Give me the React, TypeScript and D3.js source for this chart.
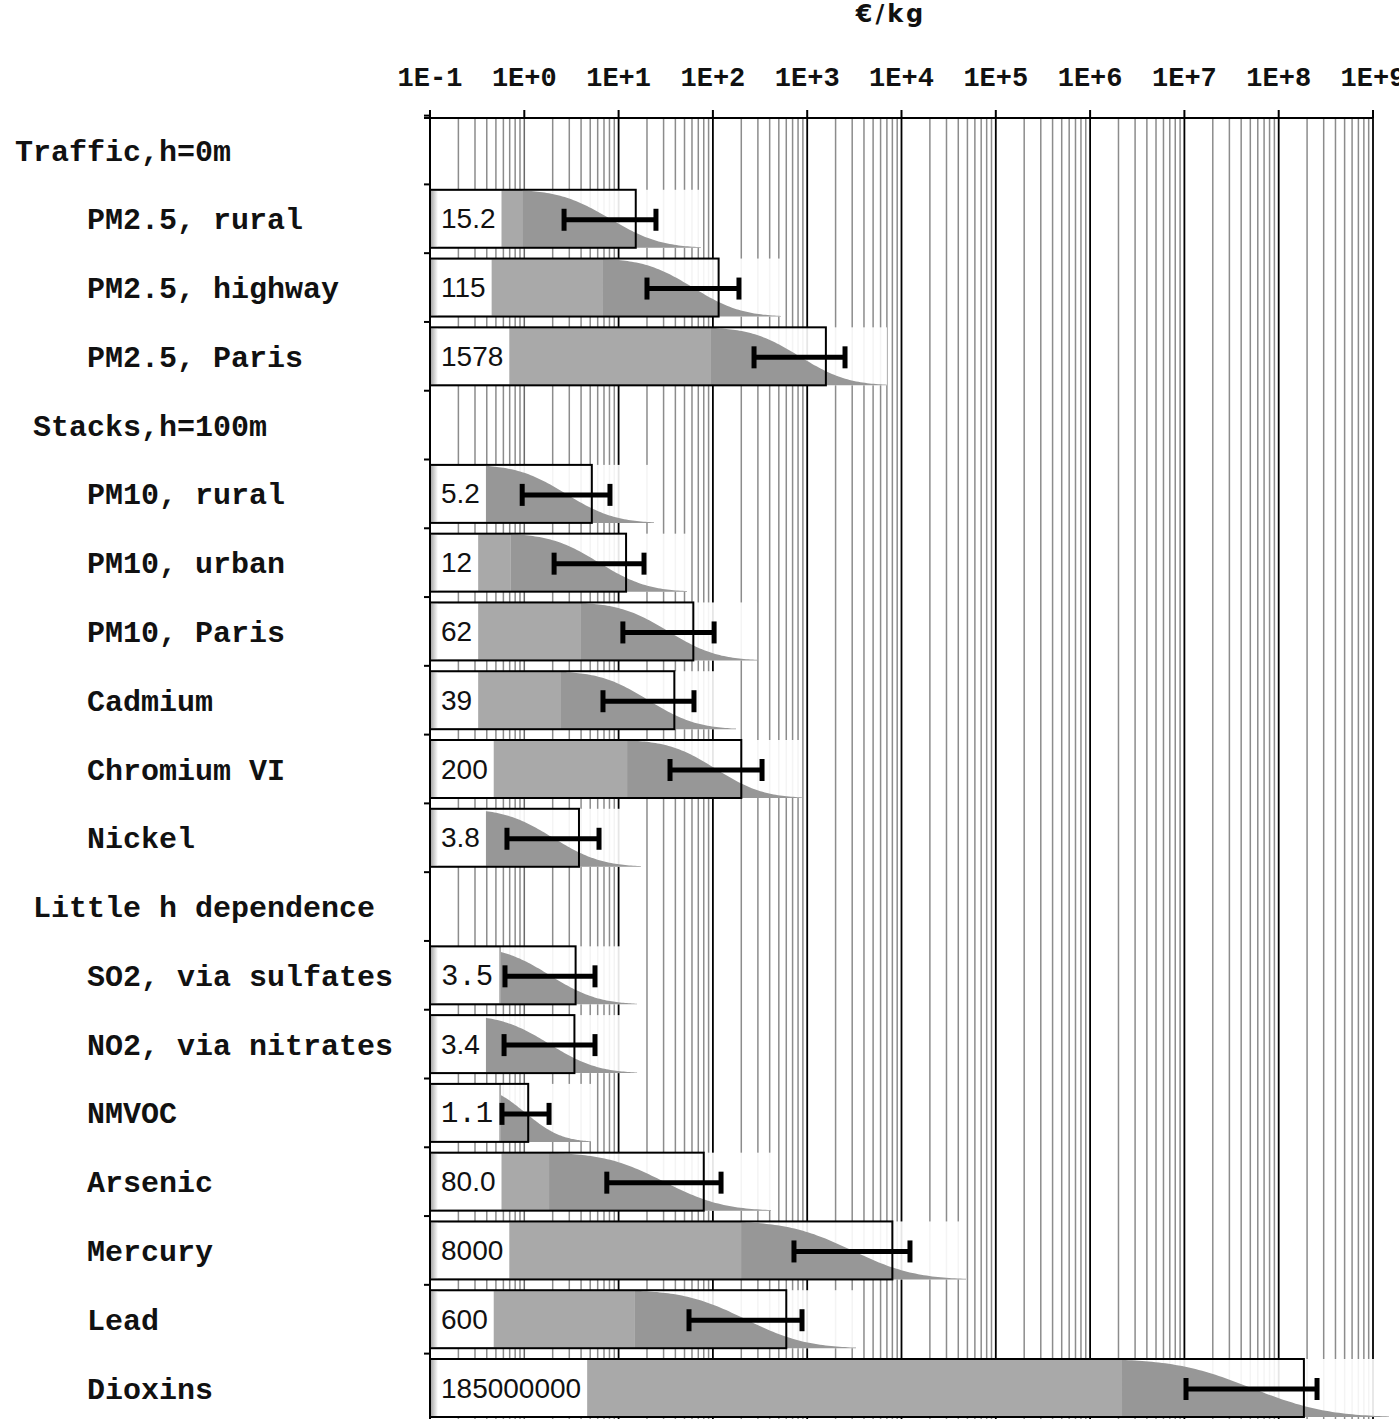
import React, { useEffect, useRef } from 'react';
import * as d3 from 'd3';

// rows top to bottom, leading spaces give the indent (monospace font)
const rowLabels = [
  'Traffic,h=0m',
  '    PM2.5, rural',
  '    PM2.5, highway',
  '    PM2.5, Paris',
  ' Stacks,h=100m',
  '    PM10, rural',
  '    PM10, urban',
  '    PM10, Paris',
  '    Cadmium',
  '    Chromium VI',
  '    Nickel',
  ' Little h dependence',
  '    SO2, via sulfates',
  '    NO2, via nitrates',
  '    NMVOC',
  '    Arsenic',
  '    Mercury',
  '    Lead',
  '    Dioxins',
];

// damage cost in €/kg as printed in the bar (null = group heading)
const valueLabels = [
  null, '15.2', '115', '1578',
  null, '5.2', '12', '62', '39', '200', '3.8',
  null, '3.5', '3.4', '1.1', '80.0', '8000', '600', '185000000',
];

// where the darker grey part of each bar starts
const darkFrom = [
  null, 0.95, 6.83, 95.4,
  null, 0.374, 0.72, 3.99, 2.45, 12.3, 0.36,
  null, 0.566, 0.374, 0.566, 1.83, 199, 14.9, 2.18e6,
];

// uncertainty bars (low / high end)
const errLow = [
  null, 2.64, 20.0, 273,
  null, 0.95, 2.07, 11.1, 6.83, 35.1, 0.655,
  null, 0.624, 0.61, 0.58, 7.5, 724, 55.8, 1.04e7,
];
const errHigh = [
  null, 24.9, 189, 2518,
  null, 8.1, 18.6, 103, 63.0, 332, 6.2,
  null, 5.62, 5.62, 1.83, 122, 12300, 881, 2.55e8,
];

// where the distribution tail fades out
const fadeTo = [
  null, 74.8, 527, 7015,
  null, 23.7, 53.1, 294, 176, 881, 17.3,
  null, 15.7, 15.7, 5.1, 413, 48300, 3290, 1.48e9,
];

// these two values are printed in courier in the original
const courierValues = ['3.5', '1.1'];

const W = 1399;
const H = 1419;

// standard normal cdf
const phi = (z) => {
  const t = 1 / (1 + (0.3275911 * Math.abs(z)) / Math.SQRT2);
  const e =
    1 -
    (((((1.061405429 * t - 1.453152027) * t + 1.421413741) * t - 0.284496736) * t + 0.254829592) * t) *
      Math.exp((-z * z) / 2);
  return z >= 0 ? 0.5 * (1 + e) : 0.5 * (1 - e);
};

const App = () => {
  const svgRef = useRef(null);

  useEffect(() => {
    const svg = d3.select(svgRef.current);
    svg.selectAll('*').remove();

    const x = d3.scaleLog().domain([1e-1, 1e9]).range([430, 1373]);
    const y = d3
      .scalePoint()
      .domain(d3.range(rowLabels.length))
      .range([150, 1388]);
    const step = y.step();
    const barH = 58;
    const axisY = 118;
    const x0 = x(0.1);

    svg.append('rect').attr('width', W).attr('height', H).attr('fill', '#fff');

    const defs = svg.append('defs');
    const grad = defs.append('linearGradient').attr('id', 'edge').attr('x1', 0).attr('x2', 1);
    grad.append('stop').attr('offset', 0).attr('stop-color', '#aaa');
    grad.append('stop').attr('offset', 1).attr('stop-color', '#fff');

    // log grid
    const gridVals = [];
    for (let n = -1; n <= 8; n++) for (let k = 1; k <= 9; k++) gridVals.push(k * Math.pow(10, n));
    gridVals.push(1e9);
    const isMajor = (v) => Math.abs(Math.log10(v) - Math.round(Math.log10(v))) < 1e-9;

    const grid = svg.append('g');
    grid
      .selectAll('line.minor')
      .data(gridVals.filter((v) => !isMajor(v) || v === 1))
      .enter()
      .append('line')
      .attr('x1', (d) => x(d))
      .attr('x2', (d) => x(d))
      .attr('y1', axisY)
      .attr('y2', H)
      .attr('stroke', (d) => (d === 1 ? '#6a6a6a' : '#8c8c8c'))
      .attr('stroke-width', 1.5);
    grid
      .selectAll('line.major')
      .data(gridVals.filter((v) => isMajor(v) && v > 1))
      .enter()
      .append('line')
      .attr('x1', (d) => x(d))
      .attr('x2', (d) => x(d))
      .attr('y1', axisY)
      .attr('y2', H)
      .attr('stroke', '#000')
      .attr('stroke-width', 1.8);

    // bars
    rowLabels.forEach((_, i) => {
      const label = valueLabels[i];
      if (label === null) return;
      const v = +label;
      const cy = y(i);
      const top = cy - barH / 2;
      const bottom = top + barH;
      const g = svg.append('g');

      g.append('rect')
        .attr('x', x0)
        .attr('y', top)
        .attr('width', x(fadeTo[i]) - x0)
        .attr('height', barH)
        .attr('fill', '#fff')
        .attr('opacity', 0.9);

      g.append('rect')
        .attr('x', x0 + 1)
        .attr('y', top)
        .attr('width', Math.max(0, x(darkFrom[i]) - x0 - 1))
        .attr('height', barH)
        .attr('fill', '#a9a9a9');

      // distribution tail: top edge follows a lognormal survival shape
      const c = (Math.log10(errLow[i]) + Math.log10(errHigh[i])) / 2;
      const lf = Math.log10(fadeTo[i]);
      const s = (lf - c) / 2.3;
      const ld = Math.log10(darkFrom[i]);
      const pts = d3.range(0, 81).map((k) => ld + ((lf - ld) * k) / 80);
      const area = d3
        .area()
        .x((l) => x(Math.pow(10, l)))
        .y0(bottom)
        .y1((l) => top + barH * phi((l - c) / s));
      g.append('path').attr('d', area(pts)).attr('fill', '#979797');

      // value box
      const mono = courierValues.includes(label);
      const txt = g
        .append('text')
        .attr('x', 441)
        .attr('y', cy + 9.5)
        .attr('font-family', mono ? "'Liberation Mono', monospace" : "'Liberation Sans', Arial, sans-serif")
        .attr('font-size', mono ? 29 : 28)
        .attr('fill', '#111')
        .text(label);
      const tw = txt.node().getComputedTextLength();
      g.insert('rect', 'text')
        .attr('x', x0 + 1)
        .attr('y', top + 1)
        .attr('width', 441 + tw + 6 - x0 - 1)
        .attr('height', barH - 2)
        .attr('fill', '#fff');
      g.insert('rect', 'text')
        .attr('x', x0 + 1)
        .attr('y', top + 1)
        .attr('width', 7)
        .attr('height', barH - 2)
        .attr('fill', 'url(#edge)');

      g.append('rect')
        .attr('x', x0)
        .attr('y', top)
        .attr('width', x(v) - x0)
        .attr('height', barH)
        .attr('fill', 'none')
        .attr('stroke', '#000')
        .attr('stroke-width', 2);

      const ey = cy + 1;
      g.append('line')
        .attr('x1', x(errLow[i]))
        .attr('x2', x(errHigh[i]))
        .attr('y1', ey)
        .attr('y2', ey)
        .attr('stroke', '#000')
        .attr('stroke-width', 5);
      [errLow[i], errHigh[i]].forEach((e) => {
        g.append('line')
          .attr('x1', x(e))
          .attr('x2', x(e))
          .attr('y1', ey - 11)
          .attr('y2', ey + 11)
          .attr('stroke', '#000')
          .attr('stroke-width', 5);
      });
    });

    // left axis with ticks between rows
    svg
      .append('line')
      .attr('x1', x0)
      .attr('x2', x0)
      .attr('y1', axisY)
      .attr('y2', H)
      .attr('stroke', '#000')
      .attr('stroke-width', 2);
    svg
      .selectAll('line.ytick')
      .data(rowLabels.map((_, i) => y(i) - step / 2))
      .enter()
      .append('line')
      .attr('x1', x0 - 6)
      .attr('x2', x0)
      .attr('y1', (d) => d)
      .attr('y2', (d) => d)
      .attr('stroke', '#000')
      .attr('stroke-width', 2);

    // top axis
    svg
      .append('line')
      .attr('x1', x0 - 6)
      .attr('x2', x(1e9))
      .attr('y1', axisY)
      .attr('y2', axisY)
      .attr('stroke', '#000')
      .attr('stroke-width', 2);
    const decades = d3.range(-1, 10);
    svg
      .selectAll('line.xtick')
      .data(decades)
      .enter()
      .append('line')
      .attr('x1', (n) => x(Math.pow(10, n)))
      .attr('x2', (n) => x(Math.pow(10, n)))
      .attr('y1', axisY - 8)
      .attr('y2', axisY)
      .attr('stroke', '#000')
      .attr('stroke-width', 2);
    svg
      .selectAll('text.xlab')
      .data(decades)
      .enter()
      .append('text')
      .attr('x', (n) => x(Math.pow(10, n)))
      .attr('y', 86)
      .attr('text-anchor', 'middle')
      .attr('font-family', "'Liberation Mono', monospace")
      .attr('font-weight', 'bold')
      .attr('font-size', 27)
      .attr('fill', '#111')
      .text((n) => `1E${n < 0 ? '-' : '+'}${Math.abs(n)}`);

    svg
      .append('text')
      .attr('x', 891)
      .attr('y', 22)
      .attr('text-anchor', 'middle')
      .attr('font-family', "'DejaVu Sans', Verdana, sans-serif")
      .attr('font-weight', 'bold')
      .attr('font-size', 24)
      .attr('letter-spacing', 3)
      .attr('fill', '#111')
      .text('€/kg');

    // row labels
    svg
      .selectAll('text.row')
      .data(rowLabels)
      .enter()
      .append('text')
      .attr('x', 15)
      .attr('y', (_, i) => y(i) + 10.5)
      .attr('xml:space', 'preserve')
      .style('white-space', 'pre')
      .attr('font-family', "'Liberation Mono', monospace")
      .attr('font-weight', 'bold')
      .attr('font-size', 30)
      .attr('fill', '#111')
      .text((d) => d);
  }, []);

  return (
    <svg
      ref={svgRef}
      width={W}
      height={H}
      style={{ position: 'absolute', left: 0, top: 0, display: 'block' }}
    />
  );
};

export default App;
